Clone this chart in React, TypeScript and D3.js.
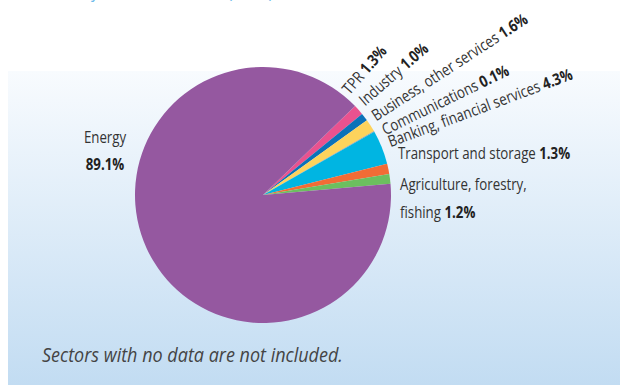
import React from "react";
import * as d3 from "d3";

// ---- data ----
const categories = [
  "TPR",
  "Industry",
  "Business, other services",
  "Communications",
  "Banking, financial services",
  "Transport and storage",
  "Agriculture, forestry, fishing",
  "Energy",
];
const shares = [1.3, 1.0, 1.6, 0.1, 4.3, 1.3, 1.2, 89.1];
const valueLabels = ["1.3%", "1.0%", "1.6%", "0.1%", "4.3%", "1.3%", "1.2%", "89.1%"];
const sliceColors = ["#e9528f", "#0b72b9", "#fdd35c", "#9e9e9e", "#00b5e2", "#f26c35", "#6cbf5f", "#9558a0"];
const footnote = "Sectors with no data are not included.";
const titleText = "Share by economic sector (2021)";

// ---- layout ----
const W = 620;
const H = 385;
const cx = 263;
const cy = 195;
const R = 128;
const startDeg = 46;
const rotatedPolar = [49, 41, 33, 26, 20.5]; // degrees above horizontal, for labels 0..4
const rotatedRadius = [132, 135, 135, 136, 136];
const FS = 16;
const SX = 0.83; // horizontal compression to imitate a condensed face
const FONT = "'Open Sans', 'Noto Sans', sans-serif";

export default function App() {
  const pie = d3
    .pie<number>()
    .sort(null)
    .value((d) => d)
    .startAngle((startDeg * Math.PI) / 180)
    .endAngle((startDeg * Math.PI) / 180 + 2 * Math.PI);
  const arcs = pie(shares);
  const arcGen = d3.arc<d3.PieArcDatum<number>>().innerRadius(0).outerRadius(R);

  const label = (x: number, y: number, name: string, value: string | null, key: string, anchor = "start") => (
    <text
      key={key}
      transform={`translate(${x},${y}) scale(${SX},1)`}
      fontSize={FS}
      fill="#333"
      textAnchor={anchor}
    >
      {name}
      {value ? " " : ""}
      {value ? (
        <tspan fontWeight="bold" fill="#222">
          {value}
        </tspan>
      ) : null}
    </text>
  );

  return (
    <svg
      width={W}
      height={H}
      style={{ position: "absolute", left: 0, top: 0, fontFamily: FONT }}
    >
      <defs>
        <linearGradient id="bg" x1="0" y1="0" x2="0" y2="1">
          <stop offset="0" stopColor="#f8fbfe" />
          <stop offset="1" stopColor="#c2dcf2" />
        </linearGradient>
      </defs>
      <rect x={0} y={0} width={W} height={H} fill="#ffffff" />
      <rect x={8} y={71} width={W - 8} height={H - 71} fill="url(#bg)" />
      <text transform={`translate(35,-2) scale(${SX},1)`} fontSize={19} fill="#6cbaea">
        {titleText}
      </text>

      <g transform={`translate(${cx},${cy})`}>
        {arcs.map((a, i) => (
          <path key={categories[i]} d={arcGen(a) || ""} fill={sliceColors[i]} />
        ))}

        {rotatedPolar.map((deg, i) => {
          const t = (deg * Math.PI) / 180;
          const x = rotatedRadius[i] * Math.cos(t);
          const y = -rotatedRadius[i] * Math.sin(t);
          return (
            <text
              key={"rl" + i}
              transform={`translate(${x},${y}) rotate(${-deg}) scale(${SX},1)`}
              fontSize={FS}
              fill="#333"
            >
              {categories[i]}{" "}
              <tspan fontWeight="bold" fill="#222">
                {valueLabels[i]}
              </tspan>
            </text>
          );
        })}

        {label(R + 7, -36, categories[5], valueLabels[5], "tr")}
        {label(R + 9, -5, categories[6].split(" fishing")[0], null, "ag1")}
        {label(R + 9, 23, "fishing", valueLabels[6], "ag2")}

        {label(-158, -52, categories[7], null, "en1", "middle")}
        <text
          transform={`translate(-158,-25) scale(${SX},1)`}
          fontSize={FS}
          fill="#222"
          fontWeight="bold"
          textAnchor="middle"
        >
          {valueLabels[7]}
        </text>
      </g>

      <text
        transform={`translate(42,362) scale(0.9,1)`}
        fontSize={20}
        fontStyle="italic"
        fill="#444"
      >
        {footnote}
      </text>
    </svg>
  );
}
